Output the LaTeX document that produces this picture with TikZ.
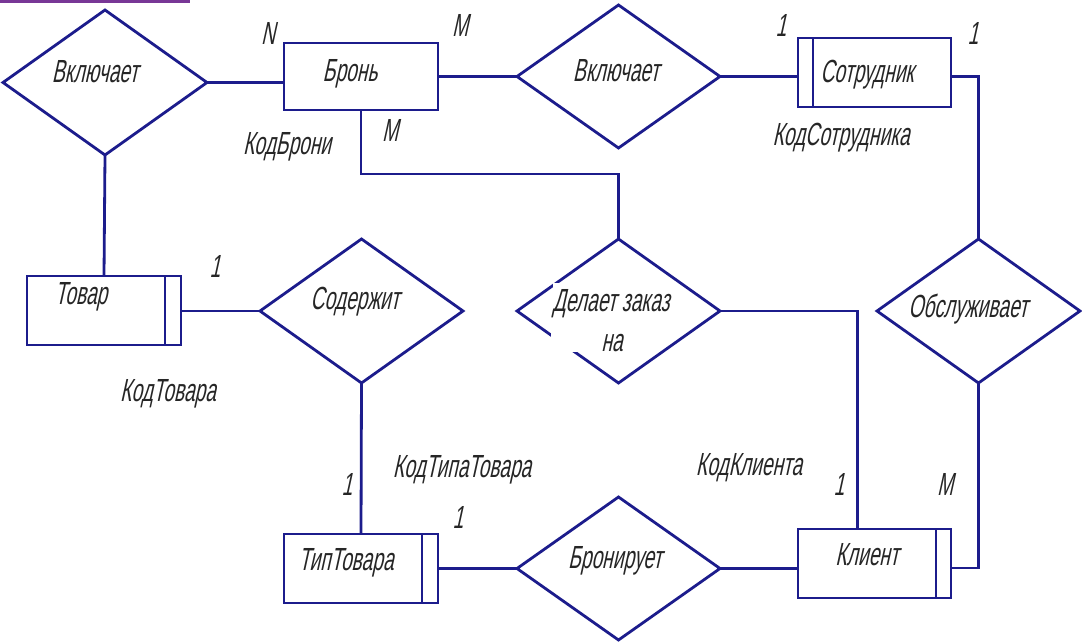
\documentclass[tikz,border=0pt]{standalone}
\usepackage{fontspec}
\newfontfamily\gost[FakeStretch=0.6,FakeSlant=0.22]{Liberation Sans}
\usetikzlibrary{shapes.geometric}
\definecolor{erblue}{RGB}{28,28,140}
\definecolor{barpurple}{RGB}{120,55,150}
\begin{document}
\begin{tikzpicture}[x=1pt,y=-1pt,
  every node/.style={inner sep=0pt,outer sep=0pt},
  ent/.style={draw=erblue,line width=2.8pt,fill=white,rectangle,minimum width=154pt,minimum height=68pt},
  rel/.style={draw=erblue,line width=2.8pt,diamond,minimum width=203pt,minimum height=144pt},
  conn/.style={draw=erblue,line width=2.8pt},
  lbl/.style={font=\gost\fontsize{32}{40}\selectfont,text=black!85,anchor=base},
]
\useasboundingbox (0,0) rectangle (1082,644);
\fill[barpurple] (0,0) rectangle (190,3);

% relationships
\node[rel,minimum width=204pt,minimum height=145pt] (dA) at (105,82.5) {};
\node[rel,minimum height=143pt] (dB) at (618.5,76.5) {};
\node[rel] (dSod) at (361.5,311) {};
\node[rel] (dDel) at (618.5,311) {};
\node[rel] (dObs) at (978.5,311) {};
\node[rel,minimum height=143pt] (dBr) at (618.5,568.5) {};

% entities
\node[ent,minimum height=67pt] (bron) at (361,76.5) {};
\node[ent,minimum width=153pt,minimum height=69pt] (sotr) at (874.5,72.5) {};
\node[ent,minimum height=69pt] (tovar) at (104,310.5) {};
\node[ent,minimum height=69pt] (tip) at (361,568.5) {};
\node[ent,minimum width=153pt,minimum height=69pt] (klient) at (874.5,563.5) {};

% inner lines of entities
\draw[conn] ([xshift=15pt]sotr.north west) -- ([xshift=15pt]sotr.south west);
\draw[conn] ([xshift=-16pt]tovar.north east) -- ([xshift=-16pt]tovar.south east);
\draw[conn] ([xshift=-16pt]tip.north east) -- ([xshift=-16pt]tip.south east);
\draw[conn] ([xshift=-15pt]klient.north east) -- ([xshift=-15pt]klient.south east);

% connectors
\draw[conn] (dA.east) -- (dA.east -| bron.west);
\draw[conn] (bron.east |- dB.west) -- (dB.west);
\draw[conn] (dB.east) -- (dB.east -| sotr.west);
\draw[conn] (dB.east -| sotr.east) -| (dObs.north);
\draw[conn] (dA.south) -- (tovar.north);
\draw[conn] (tovar.east |- dSod.west) -- (dSod.west);
\draw[conn] (dSod.south) -- (tip.north);
\draw[conn] (tip.east |- dBr.west) -- (dBr.west);
\draw[conn] (dBr.east) -- (dBr.east -| klient.west);
\draw[conn] (bron.south) -- ++(0,64) -| (dDel.north);
\draw[conn] (dDel.east) -| ([xshift=-17pt]klient.north);
\draw[conn] (dObs.south) |- ([yshift=-4.5pt]klient.east);

% texts in shapes
\node[lbl] (tA) at (95,83) {Включает};
\node[lbl] (tBron) at (350,82) {Бронь};
\node[lbl] (tB) at (616,82) {Включает};
\node[lbl] (tSotr) at (867,83) {Сотрудник};
\node[lbl] (tTov) at (81,305) {Товар};
\node[lbl] (tSod) at (355,310) {Содержит};
\node[lbl,fill=white,text height=29pt,text depth=6pt] (tDel1) at (611,312) {Делает заказ};
\node[lbl,fill=white,text height=34pt,text depth=0pt,minimum width=106pt] (tDel2) at (604,352) {\hspace*{16pt}на};
\node[lbl] (tObs) at (968,318) {Обслуживает};
\node[lbl] (tTip) at (346,570) {ТипТовара};
\node[lbl] (tBr) at (615,568) {Бронирует};
\node[lbl] (tKl) at (867,565) {Клиент};

% key attributes
\node[lbl] (kBron) at (287,155) {КодБрони};
\node[lbl] (kSotr) at (841,146) {КодСотрудника};
\node[lbl] (kTov) at (168,402) {КодТовара};
\node[lbl] (kTip) at (462,477) {КодТипаТовара};
\node[lbl] (kKl) at (749,475) {КодКлиента};

% cardinalities
\node[lbl] (c1) at (268,45) {N};
\node[lbl] (c2) at (460,37) {M};
\node[lbl] (c3) at (390,142) {M};
\node[lbl] (c4) at (781,37) {1};
\node[lbl] (c5) at (973,45) {1};
\node[lbl] (c6) at (215,278) {1};
\node[lbl] (c7) at (347,495) {1};
\node[lbl] (c8) at (458,528) {1};
\node[lbl] (c9) at (839,495) {1};
\node[lbl] (c10) at (945,495) {M};
\end{tikzpicture}
\end{document}
